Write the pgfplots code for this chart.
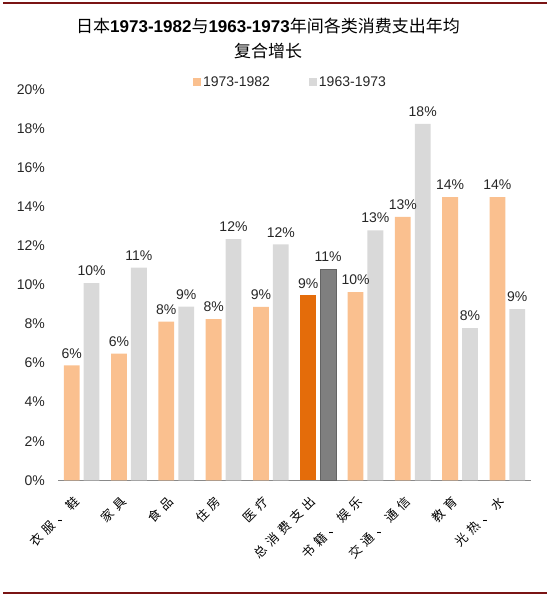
\documentclass[border=0pt]{standalone}
\usepackage{pgfplots}
\pgfplotsset{compat=1.18}
\usepackage{fontspec}
\setmainfont{Liberation Sans}
\newfontfamily\cjk{Noto Sans CJK SC}
\newfontfamily\cjkspaced[LetterSpace=35]{Noto Sans CJK SC}

\definecolor{lorange}{RGB}{250,192,143}
\definecolor{dorange}{RGB}{228,108,10}
\definecolor{lgray}{RGB}{217,217,217}
\definecolor{dgray}{RGB}{127,127,127}
\definecolor{rulered}{RGB}{122,20,20}
\definecolor{txt}{RGB}{38,38,38}

% annual compound growth, %: a = 1973-1982, b = 1963-1973
\pgfplotstableread{
x a b
0 5.88 10.08
1 6.48 10.88
2 8.12 8.88
3 8.25 12.34
4 8.87 12.07
6 9.63 12.79
7 13.47 18.23
8 14.48 7.79
9 14.48 8.75
}\cats
\pgfplotstableread{
x a b
5 9.46 10.81
}\total

\begin{document}
\begin{tikzpicture}[x=1pt,y=1pt]
\path[use as bounding box] (0,0) rectangle (550,597);
\draw[rulered, line width=2pt] (3,594) -- (547,594);
\draw[rulered, line width=2pt] (3,4) -- (547,4);
\node[align=center, text=black, font=\fontsize{17}{25}\selectfont] at (268,558.5)
  {{\cjk 日本}\textbf{1973-1982}{\cjk 与}\textbf{1963-1973}{\cjk 年间各类消费支出年均}\\{\cjk 复合增长}};

\begin{axis}[
  at={(58pt,116.7pt)}, anchor=south west,
  scale only axis, width=473pt, height=391pt,
  xmin=-0.5, xmax=9.5, ymin=0, ymax=20,
  ybar, bar width=0.334,
  clip=false,
  /pgf/number format/assume math mode=true,
  axis x line*=bottom, axis y line*=left,
  x axis line style={draw={rgb,255:red,137;green,137;blue,137}, line width=1.2pt},
  y axis line style={draw=none},
  major tick length=0pt,
  ytick={0,2,...,20},
  yticklabel={\pgfmathprintnumber{\tick}\%},
  yticklabel style={font=\fontsize{14}{16}\selectfont, text=txt, inner sep=0pt, xshift=-13pt},
  xtick={0,...,9},
  xticklabels={衣服、鞋,家具,食品,住房,医疗,总消费支出,书籍、娱乐,交通、通信,教育,光热、水},
  xticklabel style={xshift=-5pt, yshift=-19pt, rotate=45, anchor=east, inner sep=0pt,
    font=\cjkspaced\fontsize{12.5}{14}\selectfont, text=black},
  nodes near coords={\pgfmathprintnumber[fixed,precision=0]{\pgfplotspointmeta}\%},
  point meta=y,
  nodes near coords style={font=\fontsize{14}{16}\selectfont, text=txt, anchor=south, inner sep=0pt, yshift=7pt},
  legend style={at={(0.285,1.019)}, anchor=west, draw=none, fill=none, inner sep=0pt,
    legend columns=2, font=\fontsize{14}{16}\selectfont, text=txt,
    /tikz/every even column/.append style={column sep=37pt}},
  legend image code/.code={\fill[#1, draw=none] (0pt,-4pt) rectangle (8pt,4pt);},
]
\addplot[fill=lorange, draw=none, bar shift=-0.21] table[x=x, y=a] {\cats};
\addplot[fill=lgray, draw=none, bar shift=0.21] table[x=x, y=b] {\cats};
\addplot[fill=dorange, draw=none, bar shift=-0.21, forget plot] table[x=x, y=a] {\total};
\addplot[fill=dgray, draw={rgb,255:red,100;green,100;blue,100}, bar shift=0.21, forget plot] table[x=x, y=b] {\total};
\legend{1973-1982, 1963-1973}
\end{axis}
\end{tikzpicture}
\end{document}
